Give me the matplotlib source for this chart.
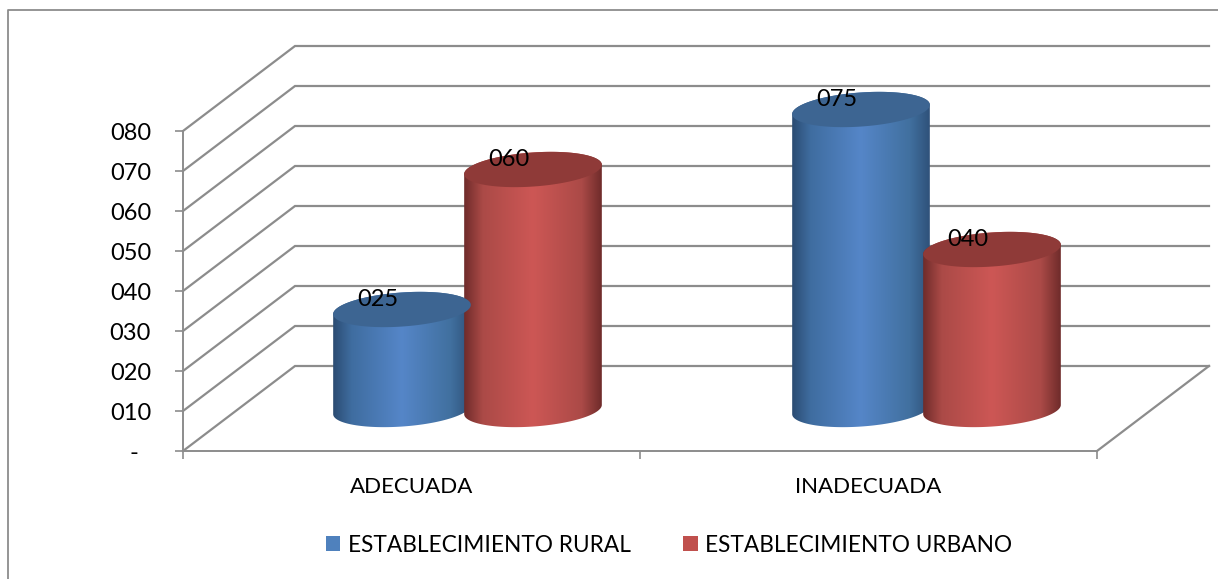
import numpy as np
import matplotlib
matplotlib.use('Agg')
import matplotlib.pyplot as plt
from matplotlib.colors import LinearSegmentedColormap
from matplotlib.lines import Line2D
from matplotlib.patches import Patch, Polygon

plt.rcParams['font.family'] = ['Lato', 'DejaVu Sans']

# Datos del grafico
categorias = ['ADECUADA', 'INADECUADA']
series = ['ESTABLECIMIENTO RURAL', 'ESTABLECIMIENTO URBANO']
rural = [25, 75]
urbano = [60, 40]
etiquetas_rural = ['025', '075']
etiquetas_urbano = ['060', '040']
ticks_y = [0, 10, 20, 30, 40, 50, 60, 70, 80]
etiquetas_y = ['-  ', '010', '020', '030', '040', '050', '060', '070', '080']

W, H = 1218, 579
GRIS = '#8c8c8c'

# Escala del eje en pixeles
PX_X = 457.0
PX_Y = 4.0

# Profundidad del plano 3D
FONDO_X = 112 / PX_X
FONDO_Y = 85 / PX_Y
MEDIO_Y = 41.5 / PX_Y

# Geometria del cilindro
SEMI_A = 69
SEMI_B = 17
GIRO = np.radians(4.1)
SEPARACION = 65.5
PASO_GRUPO = 459 / PX_X

mapa_azul = LinearSegmentedColormap.from_list('azul', [
    (0.0, '#2a4a70'), (0.14, '#3f6da0'), (0.5, '#5586c8'),
    (0.85, '#41709f'), (1.0, '#2e5078')])
mapa_rojo = LinearSegmentedColormap.from_list('rojo', [
    (0.0, '#6c2a29'), (0.14, '#ab4a47'), (0.5, '#cd5755'),
    (0.85, '#ab4a47'), (1.0, '#6c2a29')])


# Puntos de una elipse inclinada, en unidades de datos
def elipse(cx, cy, t):
    dx = SEMI_A * np.cos(t) * np.cos(GIRO) - SEMI_B * np.sin(t) * np.sin(GIRO)
    dy = SEMI_A * np.cos(t) * np.sin(GIRO) + SEMI_B * np.sin(t) * np.cos(GIRO)
    return np.column_stack((cx + dx / PX_X, cy + dy / PX_Y))


# Dibuja un cilindro desde la base hasta el valor
def cilindro(ax, x, valor, mapa, color_tapa, etiqueta):
    base = MEDIO_Y
    tope = valor + MEDIO_Y
    abajo = elipse(x, base, np.linspace(np.pi, 2 * np.pi, 80))
    arriba = elipse(x, tope, np.linspace(0, np.pi, 80))
    cuerpo = Polygon(np.vstack((abajo, arriba)), closed=True,
                     transform=ax.transData, facecolor='none', edgecolor='none')
    ax.add_patch(cuerpo)

    ancho = (SEMI_A + 1) / PX_X
    img = ax.imshow(np.linspace(0, 1, 256).reshape(1, -1), cmap=mapa,
                    extent=(x - ancho, x + ancho, 0, tope + 10),
                    aspect='auto', zorder=3, interpolation='bilinear')
    img.set_clip_path(cuerpo)
    img.set_clip_box(ax.figure.bbox)

    tapa = Polygon(elipse(x, tope, np.linspace(0, 2 * np.pi, 160)), closed=True,
                   facecolor=color_tapa, edgecolor='none', zorder=4, clip_on=False)
    ax.add_patch(tapa)

    ax.text(x - 24.5 / PX_X, tope + 10 / PX_Y, etiqueta, fontsize=17,
            ha='center', va='center', color='black', zorder=6, clip_on=False)


def main():
    fig = plt.figure(figsize=(W / 100, H / 100), dpi=100)
    ax = fig.add_axes([183 / W, (H - 451) / H, 914 / W, 320 / H])
    ax.patch.set_alpha(0)

    # Marco exterior
    fig.add_artist(Line2D([8 / W, 8 / W, 1], [0, 1 - 10 / H, 1 - 10 / H],
                          color=GRIS, lw=1.3, transform=fig.transFigure))

    # Lineas de la grilla en 3D
    for v in ticks_y:
        ax.plot([0, FONDO_X, 2 + FONDO_X], [v, v + FONDO_Y, v + FONDO_Y],
                color=GRIS, lw=1.6, zorder=1, clip_on=False,
                solid_joinstyle='miter')
    ax.plot([2, 2 + FONDO_X], [0, FONDO_Y], color=GRIS, lw=1.6, zorder=1,
            clip_on=False)

    # Cilindros
    for i in range(len(categorias)):
        centro = 0.5 + i * PASO_GRUPO + FONDO_X / 2
        cilindro(ax, centro - SEPARACION / PX_X, rural[i], mapa_azul,
                 '#3d6592', etiquetas_rural[i])
        cilindro(ax, centro + SEPARACION / PX_X, urbano[i], mapa_rojo,
                 '#8f3a38', etiquetas_urbano[i])

    ax.set_xlim(0, 2)
    ax.set_ylim(0, 80)

    # Ejes
    for lado in ['top', 'right']:
        ax.spines[lado].set_visible(False)
    for lado in ['left', 'bottom']:
        ax.spines[lado].set_color(GRIS)
        ax.spines[lado].set_linewidth(1.4)
    ax.set_yticks(ticks_y)
    ax.set_yticklabels(etiquetas_y, fontsize=17)
    ax.tick_params(axis='y', length=6, width=1.2, color=GRIS, pad=17)
    ax.set_xticks([0, 1, 2])
    ax.set_xticklabels([])
    ax.set_xticks([0.5, 1.5], minor=True)
    ax.set_xticklabels(categorias, minor=True, fontsize=16)
    ax.tick_params(axis='x', which='major', length=6, width=1.2, color=GRIS)
    ax.tick_params(axis='x', which='minor', length=0, pad=18.5)

    # Leyenda
    manejadores = [Patch(facecolor='#4f81bd', label=series[0]),
                   Patch(facecolor='#c0504d', label=series[1])]
    fig.legend(handles=manejadores, loc='center', ncol=2, frameon=False,
               bbox_to_anchor=(669 / W, 1 - 545 / H), fontsize=16.3,
               handlelength=0.66, handleheight=0.66, handletextpad=0.31,
               columnspacing=2.34, borderpad=0)

    fig.savefig('out.png', dpi=100)


if __name__ == "__main__":
    main()
